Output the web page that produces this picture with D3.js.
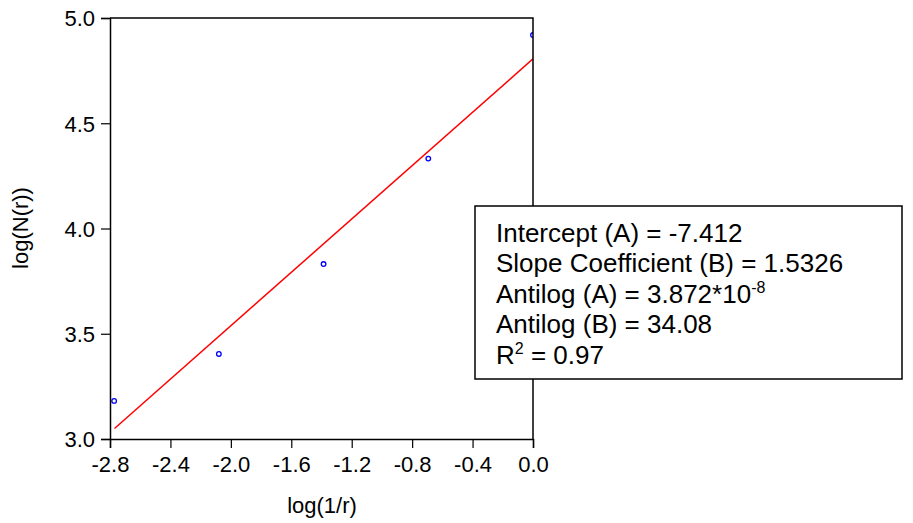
<!DOCTYPE html>
<html>
<head>
<meta charset="utf-8">
<script src="https://cdn.jsdelivr.net/npm/d3@7"></script>
<style>
  body { margin: 0; background: #fff; }
  text { font-family: Arial, "Liberation Sans", sans-serif; fill: #000; }
</style>
</head>
<body>
<div id="chart"></div>
<script>
// observed points
var logInvR = [-2.7726, -2.0794, -1.3863, -0.6931, 0.0];
var logN = [3.181, 3.404, 3.831, 4.332, 4.919];

// fitted line end points
var fitX = [-2.77, 0.0];
var fitY = [3.05, 4.806];

var xTicks = [-2.8, -2.4, -2.0, -1.6, -1.2, -0.8, -0.4, 0.0];
var yTicks = [3.0, 3.5, 4.0, 4.5, 5.0];

var statLines = [
  { text: 'Intercept (A) = -7.412' },
  { text: 'Slope Coefficient (B) = 1.5326' },
  { text: 'Antilog (A) = 3.872*10', sup: '-8' },
  { text: 'Antilog (B) = 34.08' },
  { pre: 'R', sup: '2', text: ' = 0.97' }
];

var width = 913,
  height = 523;

var x = d3.scaleLinear()
  .domain([-2.8, 0])
  .range([110, 533]);

var y = d3.scaleLinear()
  .domain([3, 5])
  .range([439, 18]);

var svg = d3.select('#chart')
  .append('svg')
  .attr('width', width)
  .attr('height', height);

svg.append('defs')
  .append('clipPath')
  .attr('id', 'plotclip')
  .append('rect')
  .attr('x', 110)
  .attr('y', 18)
  .attr('width', 423)
  .attr('height', 421);

var plot = svg.append('g').attr('clip-path', 'url(#plotclip)');

plot.append('line')
  .attr('x1', x(fitX[0]))
  .attr('y1', y(fitY[0]))
  .attr('x2', x(fitX[1]))
  .attr('y2', y(fitY[1]))
  .attr('stroke', '#ff0000')
  .attr('stroke-width', 1.5);

plot.selectAll('circle')
  .data(logInvR)
  .enter()
  .append('circle')
  .attr('cx', function (d) { return x(d); })
  .attr('cy', function (d, i) { return y(logN[i]); })
  .attr('r', 2.3)
  .attr('fill', 'none')
  .attr('stroke', '#0000ff')
  .attr('stroke-width', 1.3);

// frame: top and right
svg.append('path')
  .attr('d', 'M110,18H533V439')
  .attr('fill', 'none')
  .attr('stroke', '#000')
  .attr('stroke-width', 1.5);

var xAxis = svg.append('g')
  .attr('transform', 'translate(0,439)')
  .call(d3.axisBottom(x)
    .tickValues(xTicks)
    .tickSize(9)
    .tickPadding(8)
    .tickFormat(d3.format('.1f')));

var yAxis = svg.append('g')
  .attr('transform', 'translate(110,0)')
  .call(d3.axisLeft(y)
    .tickValues(yTicks)
    .tickSize(9)
    .tickPadding(6)
    .tickFormat(d3.format('.1f')));

[xAxis, yAxis].forEach(function (g) {
  g.select('.domain').attr('stroke-width', 1.5);
  g.selectAll('.tick line').attr('stroke-width', 1.2);
  g.selectAll('text')
    .style('font-size', '22px')
    .style('font-family', 'Arial, "Liberation Sans", sans-serif');
});
xAxis.selectAll('.tick text').text(function (d) { return d3.format('.1f')(d).replace('−', '-'); });
yAxis.selectAll('.tick text').attr('dy', '0.36em');

svg.append('text')
  .attr('x', 322)
  .attr('y', 513)
  .attr('text-anchor', 'middle')
  .style('font-size', '22px')
  .text('log(1/r)');

svg.append('text')
  .attr('transform', 'translate(28,228) rotate(-90)')
  .attr('text-anchor', 'middle')
  .style('font-size', '22px')
  .text('log(N(r))');

// stats box
svg.append('rect')
  .attr('x', 475)
  .attr('y', 206)
  .attr('width', 427)
  .attr('height', 173)
  .attr('fill', '#fff')
  .attr('stroke', '#000')
  .attr('stroke-width', 1.5);

var box = svg.append('g');
statLines.forEach(function (l, i) {
  var t = box.append('text')
    .attr('x', 496)
    .attr('y', 242 + i * 30.4)
    .style('font-size', '26px');
  if (l.pre) {
    t.append('tspan').text(l.pre);
    t.append('tspan').attr('dy', -10).style('font-size', '16px').text(l.sup);
    t.append('tspan').attr('dy', 10).text(l.text);
  } else {
    t.append('tspan').text(l.text);
    if (l.sup) {
      t.append('tspan').attr('dy', -10).style('font-size', '16px').text(l.sup);
    }
  }
});
</script>
</body>
</html>
